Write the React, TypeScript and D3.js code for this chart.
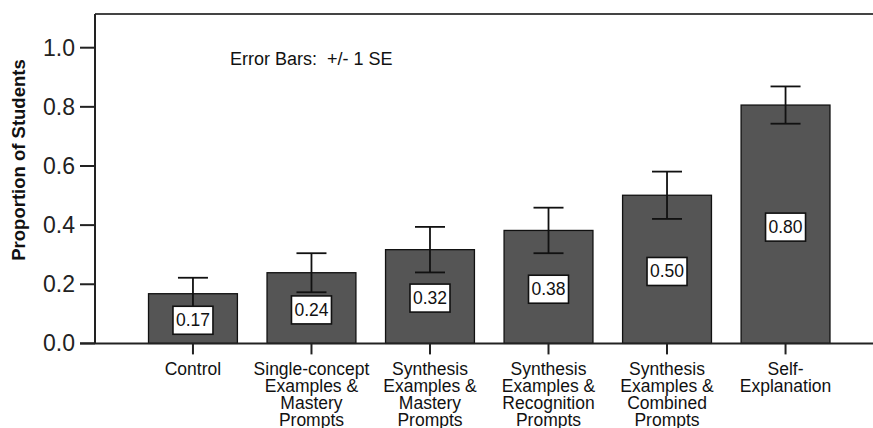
import React from "react";
import * as d3 from "d3";

const categories: string[][] = [
  ["Control"],
  ["Single-concept", "Examples &", "Mastery", "Prompts"],
  ["Synthesis", "Examples &", "Mastery", "Prompts"],
  ["Synthesis", "Examples &", "Recognition", "Prompts"],
  ["Synthesis", "Examples &", "Combined", "Prompts"],
  ["Self-", "Explanation"],
];
const means = [0.168, 0.239, 0.317, 0.382, 0.501, 0.806];
const valueLabels = ["0.17", "0.24", "0.32", "0.38", "0.50", "0.80"];
const se = [0.054, 0.066, 0.077, 0.077, 0.080, 0.063];
const yTicks = [0, 0.2, 0.4, 0.6, 0.8, 1.0];

const W = 873;
const H = 428;
const FONT = "'Liberation Sans', Arial, sans-serif";

export default function App() {
  const ids = categories.map((_, i) => String(i));
  const x = d3
    .scaleBand<string>()
    .domain(ids)
    .range([133.7, 844.8])
    .paddingInner(0.25)
    .paddingOuter(0.125);
  const y = d3.scaleLinear().domain([0, 1]).range([343.4, 47.7]);
  const axisX = 95;
  const topY = 14;
  const baseY = y(0);

  return (
    <svg
      width={W}
      height={H}
      style={{ position: "absolute", left: 0, top: 0, background: "#fff" }}
      fontFamily={FONT}
    >
      <line x1={axisX} x2={W} y1={topY} y2={topY} stroke="#444" strokeWidth={2} />
      {means.map((m, i) => (
        <rect
          key={"b" + i}
          x={x(ids[i])!}
          y={y(m)}
          width={x.bandwidth()}
          height={baseY - y(m)}
          fill="#555555"
          stroke="#111"
          strokeWidth={1.3}
        />
      ))}
      {means.map((m, i) => {
        const cx = x(ids[i])! + x.bandwidth() / 2;
        const hi = y(m + se[i]);
        const lo = y(m - se[i]);
        return (
          <g key={"e" + i} stroke="#111" strokeWidth={1.8}>
            <line x1={cx} x2={cx} y1={hi} y2={lo} />
            <line x1={cx - 15} x2={cx + 15} y1={hi} y2={hi} />
            <line x1={cx - 15} x2={cx + 15} y1={lo} y2={lo} />
          </g>
        );
      })}
      {means.map((m, i) => {
        const cx = x(ids[i])! + x.bandwidth() / 2;
        const cy = y(parseFloat(valueLabels[i]) / 2) + 2;
        return (
          <g key={"v" + i}>
            <rect
              x={cx - 20}
              y={cy - 14}
              width={40}
              height={28}
              fill="#fff"
              stroke="#111"
              strokeWidth={1.6}
            />
            <text
              x={cx}
              y={cy}
              textAnchor="middle"
              dominantBaseline="central"
              fontSize={17.5}
              fill="#111"
            >
              {valueLabels[i]}
            </text>
          </g>
        );
      })}
      <line x1={axisX} x2={axisX} y1={topY} y2={baseY} stroke="#222" strokeWidth={2} />
      <line x1={80} x2={W} y1={baseY} y2={baseY} stroke="#222" strokeWidth={2} />
      {yTicks.map((t) => (
        <g key={"yt" + t}>
          <line x1={80} x2={axisX} y1={y(t)} y2={y(t)} stroke="#222" strokeWidth={2} />
          <text
            x={75}
            y={y(t)}
            textAnchor="end"
            dominantBaseline="central"
            fontSize={23}
            fill="#222"
          >
            {d3.format(".1f")(t)}
          </text>
        </g>
      ))}
      {categories.map((lines, i) => {
        const cx = x(ids[i])! + x.bandwidth() / 2;
        return (
          <g key={"xt" + i}>
            <line x1={cx} x2={cx} y1={baseY} y2={baseY + 11} stroke="#222" strokeWidth={2} />
            <text textAnchor="middle" fontSize={17.5} fill="#111">
              {lines.map((l, j) => (
                <tspan key={j} x={cx} y={375 + j * 17}>
                  {l}
                </tspan>
              ))}
            </text>
          </g>
        );
      })}
      <text
        transform={`translate(25,160) rotate(-90)`}
        textAnchor="middle"
        fontSize={18.5}
        fontWeight="bold"
        fill="#111"
      >
        Proportion of Students
      </text>
      <text x={230} y={65} fontSize={18} fill="#111" style={{ whiteSpace: "pre" }}>
        {"Error Bars:  +/- 1 SE"}
      </text>
    </svg>
  );
}
